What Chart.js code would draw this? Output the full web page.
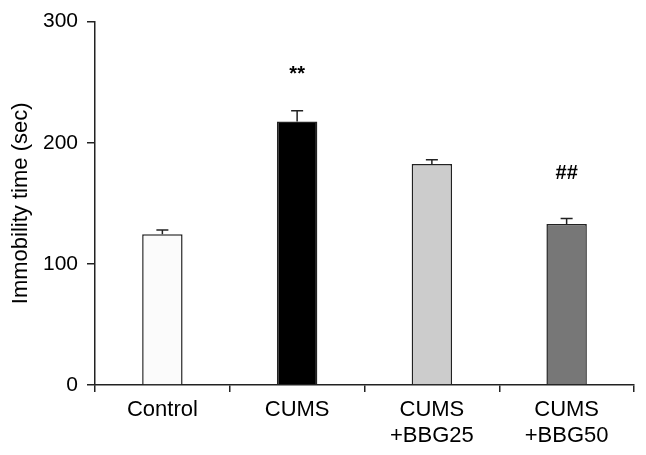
<!DOCTYPE html>
<html>
<head>
<meta charset="utf-8">
<script src="https://cdn.jsdelivr.net/npm/chart.js@4.4.1/dist/chart.umd.min.js"></script>
<style>
  body { margin: 0; background: #fff; }
  #wrap { width: 646px; height: 455px; }
</style>
</head>
<body>
<div id="wrap"><canvas id="myChart"></canvas></div>
<script>
var groups = [['Control'], ['CUMS'], ['CUMS', '+BBG25'], ['CUMS', '+BBG50']];
var means = [124.5, 217.5, 182.5, 133];
var sems = [3.5, 9, 3.5, 4.5];
var barColors = ['#fbfbfb', '#000000', '#cccccc', '#777777'];
var marks = ['', '**', '', '##'];
var markAt = [null, 256, null, 175];
var yTicks = [0, 100, 200, 300];

var ctx = document.getElementById('myChart').getContext('2d');

var errorBars = {
  id: 'errorBars',
  afterDatasetsDraw: function(chart) {
    var c = chart.ctx;
    var x = chart.scales.x, y = chart.scales.y;
    c.save();
    c.strokeStyle = '#222';
    c.lineWidth = 1.5;
    means.forEach(function(m, i) {
      var px = x.getPixelForValue(i);
      var top = y.getPixelForValue(m + sems[i]);
      var base = y.getPixelForValue(m);
      c.beginPath();
      c.moveTo(px, base);
      c.lineTo(px, top);
      c.moveTo(px - 6, top);
      c.lineTo(px + 6, top);
      c.stroke();
      if (marks[i]) {
        c.fillStyle = '#000';
        c.font = 'bold 20px "Liberation Sans", Arial, sans-serif';
        c.textAlign = 'center';
        c.textBaseline = 'middle';
        c.fillText(marks[i], px, y.getPixelForValue(markAt[i]));
      }
    });
    c.restore();
  }
};

new Chart(ctx, {
  type: 'bar',
  data: {
    labels: groups,
    datasets: [{
      data: means,
      backgroundColor: barColors,
      borderColor: '#222',
      borderWidth: 1.5,
      categoryPercentage: 1,
      barPercentage: 0.3
    }]
  },
  options: {
    responsive: true,
    maintainAspectRatio: false,
    animation: false,
    layout: { padding: { top: 19, right: 12, left: 0, bottom: 0 } },
    plugins: {
      legend: { display: false },
      tooltip: { enabled: false }
    },
    scales: {
      x: {
        grid: { drawOnChartArea: false, drawTicks: true, tickLength: 7, color: '#222', lineWidth: 1.5, offset: true },
        border: { color: '#222', width: 1.5 },
        ticks: {
          color: '#000',
          padding: 5,
          font: { family: '"Liberation Sans", Arial, sans-serif', size: 22, lineHeight: 1.18 },
          maxRotation: 0
        },
        afterFit: function(s) { s.height = 70; }
      },
      y: {
        min: 0,
        max: 300,
        afterBuildTicks: function(s) { s.ticks = yTicks.map(function(v) { return { value: v }; }); },
        grid: { drawOnChartArea: false, drawTicks: true, tickLength: 8, color: '#222', lineWidth: 1.5 },
        border: { color: '#222', width: 1.5 },
        ticks: {
          color: '#000',
          padding: 9,
          font: { family: '"Liberation Sans", Arial, sans-serif', size: 21 }
        },
        title: {
          display: true,
          text: 'Immobility time (sec)',
          color: '#000',
          font: { family: '"Liberation Sans", Arial, sans-serif', size: 22 },
          padding: { top: 8, bottom: 0 }
        },
        afterFit: function(s) { s.width = 95; }
      }
    }
  },
  plugins: [errorBars]
});
</script>
</body>
</html>
